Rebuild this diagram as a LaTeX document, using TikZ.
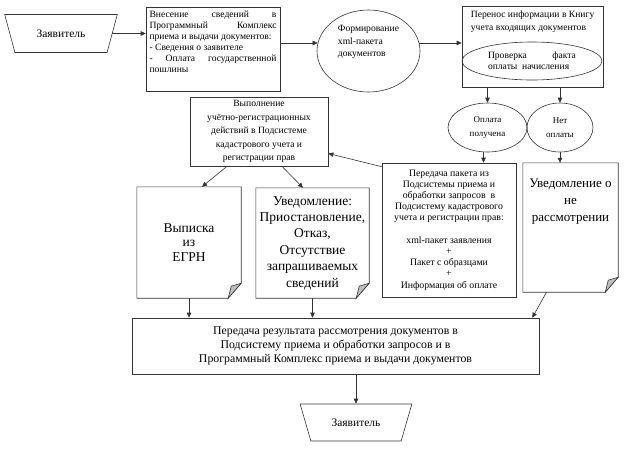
\documentclass[tikz,border=0pt]{standalone}
\usepackage{fontspec}
\setmainfont{Liberation Serif}
\usetikzlibrary{arrows.meta, positioning, calc, shapes.geometric}

\tikzset{
  line/.style={draw=black!80, line width=0.6pt},
  arr/.style={line, -{Triangle[length=5pt,width=4.5pt]}},
  box/.style={line, rectangle, inner sep=3pt},
  oval/.style={line, ellipse, inner sep=0pt},
  trap/.style={line, trapezium, trapezium stretches=true, shape border rotate=180, inner sep=0pt, font=\fontsize{11.5}{13}\selectfont},
  smalltxt/.style={font=\fontsize{9.6}{11}\selectfont},
  midtxt/.style={font=\fontsize{9.6}{13.5}\selectfont},
  bigtxt/.style={font=\fontsize{13.5}{16.4}\selectfont},
}

\begin{document}
\begin{tikzpicture}[x=1pt, y=-1pt]
  \useasboundingbox (0,0) rectangle (624,448);
  \hyphenpenalty=10000
  % top row
  \node[trap, trapezium angle=55, minimum width=113pt, minimum height=38pt] (app1) at (61,33.5) {Заявитель};
  \node[box, smalltxt, minimum width=134pt, minimum height=84pt] (enter) at (213,49) {%
    \parbox[c][77pt][t]{127pt}{\hyphenpenalty=10000 Внесение сведений в\linebreak Программный Комплекс\linebreak приема и выдачи документов:\\
    - Сведения о заявителе\\
    - Оплата государственной\linebreak пошлины}};
  \node[oval, align=left, font=\fontsize{9.6}{12.5}\selectfont, text depth=20pt, minimum width=103pt, minimum height=82pt] (form) at (368.5,51) {Формирование\\xml-пакета\\документов};
  \node[box, minimum width=141pt, minimum height=81pt] (book) at (532.5,46.5) {};
  \node[font=\fontsize{9.6}{13}\selectfont, align=left, anchor=north west, inner sep=0pt] (booktitle) at ([xshift=9pt,yshift=-5pt]book.north west) {Перенос информации в Книгу\\учета входящих документов};
  \node[oval, smalltxt, minimum width=140pt, minimum height=38pt] (verify) at (532,61) {%
    \parbox{88pt}{Проверка\hfill факта\\оплаты~ начисления}};
  % payment check
  \node[oval, align=center, minimum width=79pt, minimum height=49pt, font=\fontsize{9}{13.5}\selectfont] (paid) at (487.5,127.5) {Оплата\\получена};
  \node[oval, align=center, minimum width=66pt, minimum height=49pt, font=\fontsize{9}{13.5}\selectfont] (unpaid) at (560,127.5) {Нет\\оплаты};
  % middle row
  \node[box, font=\fontsize{9.8}{11.2}\selectfont, align=center, minimum width=134pt, minimum height=134pt] (transfer) at (449,230) {%
    Передача пакета из\\Подсистемы приема и\\обработки запросов~ в\\Подсистему кадастрового\\учета и регистрации прав:\\[11.2pt]
    xml-пакет заявления\\+\\Пакет с образцами\\+\\Информация об оплате};
  \node[minimum width=95pt, minimum height=129pt, inner sep=4pt, font=\fontsize{13}{17}\selectfont] (notice) at (570.5,227.5) {%
    \parbox[c][121pt][t]{87pt}{\centering\vspace{12pt}Уведомление о\\не\\рассмотрении}};
  \node[box, midtxt, align=center, minimum width=138pt, minimum height=69pt] (exec) at (259,131.5) {%
    Выполнение\\учётно-регистрационных\\действий в Подсистеме\\кадастрового учета и\\регистрации прав};
  \node[align=center, minimum width=104pt, minimum height=111pt, font=\fontsize{13.5}{14.5}\selectfont] (extract) at (189,242.5) {Выписка\\из\\ЕГРН};
  \node[bigtxt, align=center, minimum width=113pt, minimum height=110pt] (notify) at (312.5,243) {%
    Уведомление:\\Приостановление,\\Отказ,\\Отсутствие\\запрашиваемых\\сведений};
  % bottom
  \node[box, font=\fontsize{11.8}{14}\selectfont, align=center, minimum width=407pt, minimum height=56pt] (result) at (335.5,346) {%
    Передача результата рассмотрения документов в\\Подсистему приема и обработки запросов и в\\Программный Комплекс приема и выдачи документов};
  \node[trap, trapezium angle=53, minimum width=112pt, minimum height=37pt] (app2) at (356,422.5) {Заявитель};

  % folded corner documents
  \foreach \n in {extract, notify, notice} {
    \draw[line] (\n.north west) -- (\n.north east) -- ([yshift=15pt]\n.south east)
      -- ([xshift=-13pt]\n.south east) -- (\n.south west) -- cycle;
    \filldraw[line, fill=black!25] ([yshift=15pt]\n.south east) -- ([xshift=-13pt]\n.south east)
      -- ([xshift=-10pt,yshift=12pt]\n.south east) -- cycle;
  }

  % connectors
  \draw[arr] (app1.east) -- (app1.east -| enter.west);
  \draw[arr] (enter.east |- form.171) -- (form.171);
  \draw[arr] (form.9) -- (form.9 -| book.west);
  \draw[arr] (book.south -| paid.north) -- (paid.north);
  \draw[arr] (book.south -| unpaid.north) -- (unpaid.north);
  \draw[arr] ([xshift=-4pt]paid.south) -- ([xshift=-4pt]paid.south |- transfer.north);
  \draw[arr] (unpaid.south) -- (unpaid.south |- notice.north);
  \draw[arr] ([yshift=-4pt]transfer.north west) -- ([yshift=-22pt]exec.east);
  \draw[arr] ([xshift=-32pt]exec.south) -- ([xshift=13pt]extract.north);
  \draw[arr] ([xshift=23pt]exec.south) -- ([xshift=-9.5pt]notify.north);
  \draw[arr] (extract.south) -- (extract.south |- result.north);
  \draw[arr] (notify.south) -- (notify.south |- result.north);
  \draw[arr] ([xshift=-24pt]notice.south) -- ([xshift=-7pt]result.north east);
  \draw[arr] (result.south -| app2.north) -- (app2.north);
\end{tikzpicture}
\end{document}
